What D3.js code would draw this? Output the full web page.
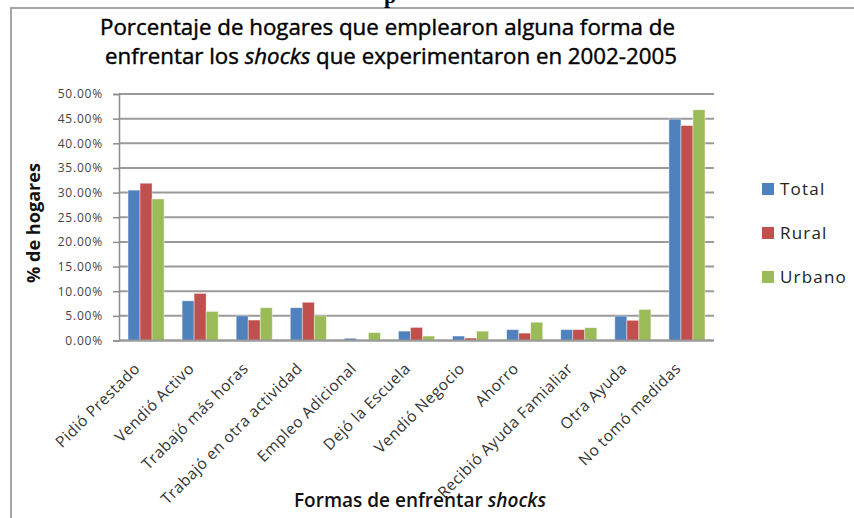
<!DOCTYPE html>
<html>
<head>
<meta charset="utf-8">
<script src="https://cdn.jsdelivr.net/npm/d3@7"></script>
<style>
body { margin: 0; background: #fff; }
text { font-family: "Open Sans", sans-serif; }
</style>
</head>
<body>
<div class="grafico"></div>
<script>
// datos (porcentaje de hogares)
var formas = ["Pidió Prestado", "Vendió Activo", "Trabajó más horas", "Trabajó en otra actividad",
    "Empleo Adicional", "Dejó la Escuela", "Vendió Negocio", "Ahorro",
    "Recibió Ayuda Famialiar", "Otra Ayuda", "No tomó medidas"];
var series = ["Total", "Rural", "Urbano"];
var total  = [30.5, 8.05, 5.0, 6.65, 0.45, 1.9, 0.9, 2.2, 2.2, 4.95, 44.9];
var rural  = [31.9, 9.55, 4.15, 7.75, 0.1, 2.65, 0.5, 1.5, 2.2, 4.1, 43.6];
var urbano = [28.7, 5.9, 6.65, 5.0, 1.6, 0.9, 1.9, 3.7, 2.6, 6.3, 46.8];
var yTicks = [0, 5, 10, 15, 20, 25, 30, 35, 40, 45, 50];
var colores = ["#4F81BD", "#C0504D", "#9BBB59"];

var w = 854, h = 518;
var pLeft = 119, pRight = 714, pTop = 94, pBottom = 340.5;

var svg = d3.select(".grafico").append("svg")
    .attr("width", w)
    .attr("height", h);

// marco del area del grafico
svg.append("rect")
    .attr("x", 11).attr("y", 8)
    .attr("width", 900).attr("height", 600)
    .attr("fill", "none")
    .attr("stroke", "#a6a6a6")
    .attr("stroke-width", 2);

// resto del encabezado cortado arriba
svg.append("text")
    .attr("x", 384).attr("y", 3)
    .style("font-family", "'Liberation Serif', serif")
    .style("font-weight", "bold")
    .style("font-size", "22px")
    .text("p");

// titulo
svg.append("text")
    .attr("x", 100).attr("y", 35)
    .attr("textLength", 575).attr("lengthAdjust", "spacingAndGlyphs")
    .style("font-size", "21px")
    .style("fill", "#000")
    .style("stroke", "#000")
    .style("stroke-width", 0.4)
    .text("Porcentaje de hogares que emplearon  alguna forma de");
var t2 = svg.append("text")
    .attr("x", 105).attr("y", 64)
    .attr("textLength", 572).attr("lengthAdjust", "spacingAndGlyphs")
    .style("font-size", "21px")
    .style("fill", "#000")
    .style("stroke", "#000")
    .style("stroke-width", 0.4);
t2.append("tspan").text("enfrentar los ");
t2.append("tspan").style("font-style", "italic").text("shocks");
t2.append("tspan").text(" que experimentaron en 2002-2005");

var x0 = d3.scaleBand()
    .domain(formas)
    .range([pLeft, pRight])
    .paddingInner(1 / 3)
    .paddingOuter(1 / 6);
var x1 = d3.scaleBand()
    .domain(series)
    .range([0, x0.bandwidth()]);
var y = d3.scaleLinear()
    .domain([0, 50])
    .range([pBottom, pTop]);

// lineas de cuadricula
svg.append("g").selectAll("line")
    .data(yTicks)
    .enter()
    .append("line")
    .attr("x1", pLeft).attr("x2", pRight)
    .attr("y1", function(d) { return y(d); })
    .attr("y2", function(d) { return y(d); })
    .style("stroke", "#9a9a9a")
    .style("stroke-width", 2);

// eje y
var ejeY = svg.append("g")
    .attr("transform", "translate(" + pLeft + ",0)")
    .call(d3.axisLeft(y).tickValues(yTicks).tickSize(6).tickPadding(10)
        .tickFormat(function(d) { return d.toFixed(2) + "%"; }));
ejeY.select(".domain").style("stroke", "#8c8c8c").style("stroke-width", 1.5);
ejeY.selectAll(".tick line").style("stroke", "#8c8c8c").style("stroke-width", 1.5);
ejeY.selectAll("text")
    .style("font-family", "'Open Sans', sans-serif")
    .style("font-size", "12px")
    .style("letter-spacing", "0.8px")
    .style("fill", "#444");

// barras
var filas = formas.map(function(f, i) {
    return {forma: f, valores: [total[i], rural[i], urbano[i]]};
});
var grupos = svg.append("g").selectAll("g")
    .data(filas)
    .enter()
    .append("g")
    .attr("transform", function(d) { return "translate(" + x0(d.forma) + ",0)"; });
grupos.selectAll("rect")
    .data(function(d) {
        return d.valores.map(function(v, j) { return {serie: series[j], valor: v, j: j}; });
    })
    .enter()
    .append("rect")
    .attr("x", function(d) { return x1(d.serie); })
    .attr("y", function(d) { return y(d.valor); })
    .attr("width", x1.bandwidth())
    .attr("height", function(d) { return pBottom - y(d.valor); })
    .attr("fill", function(d) { return colores[d.j]; })
    .attr("stroke", "#ffffff")
    .attr("stroke-opacity", 0.5)
    .attr("stroke-width", 0.8);

// eje x (linea base)
svg.append("line")
    .attr("x1", pLeft).attr("x2", pRight)
    .attr("y1", pBottom).attr("y2", pBottom)
    .style("stroke", "#9a9a9a")
    .style("stroke-width", 2);

// etiquetas x
svg.append("g").selectAll("text")
    .data(formas)
    .enter()
    .append("text")
    .attr("transform", function(d) {
        return "translate(" + (x0(d) + x0.bandwidth() / 2 - 5) + "," + (pBottom + 29) + ") rotate(-45)";
    })
    .attr("text-anchor", "end")
    .style("font-size", "15.5px")
    .style("letter-spacing", "0.5px")
    .style("fill", "#333")
    .text(function(d) { return d; });

// titulo eje y
svg.append("text")
    .attr("transform", "translate(40,223) rotate(-90)")
    .attr("text-anchor", "middle")
    .attr("textLength", 120).attr("lengthAdjust", "spacingAndGlyphs")
    .style("font-size", "18px")
    .style("font-weight", "bold")
    .style("fill", "#111")
    .text("% de hogares");

// titulo eje x
var tx = svg.append("text")
    .attr("x", 420).attr("y", 507)
    .attr("text-anchor", "middle")
    .style("font-size", "19px")
    .style("font-weight", "600")
    .style("fill", "#111");
tx.append("tspan").text("Formas de enfrentar ");
tx.append("tspan").style("font-style", "italic").text("shocks");

// leyenda
var leyenda = svg.append("g").selectAll("g")
    .data(series)
    .enter()
    .append("g")
    .attr("transform", function(d, i) { return "translate(762," + (189 + i * 44) + ")"; });
leyenda.append("rect")
    .attr("x", 0).attr("y", -6)
    .attr("width", 12).attr("height", 12)
    .attr("fill", function(d, i) { return colores[i]; });
leyenda.append("text")
    .attr("x", 18).attr("y", 0)
    .attr("dy", "0.36em")
    .style("font-size", "17px")
    .style("letter-spacing", "1.2px")
    .style("fill", "#222")
    .text(function(d) { return d; });
</script>
</body>
</html>
